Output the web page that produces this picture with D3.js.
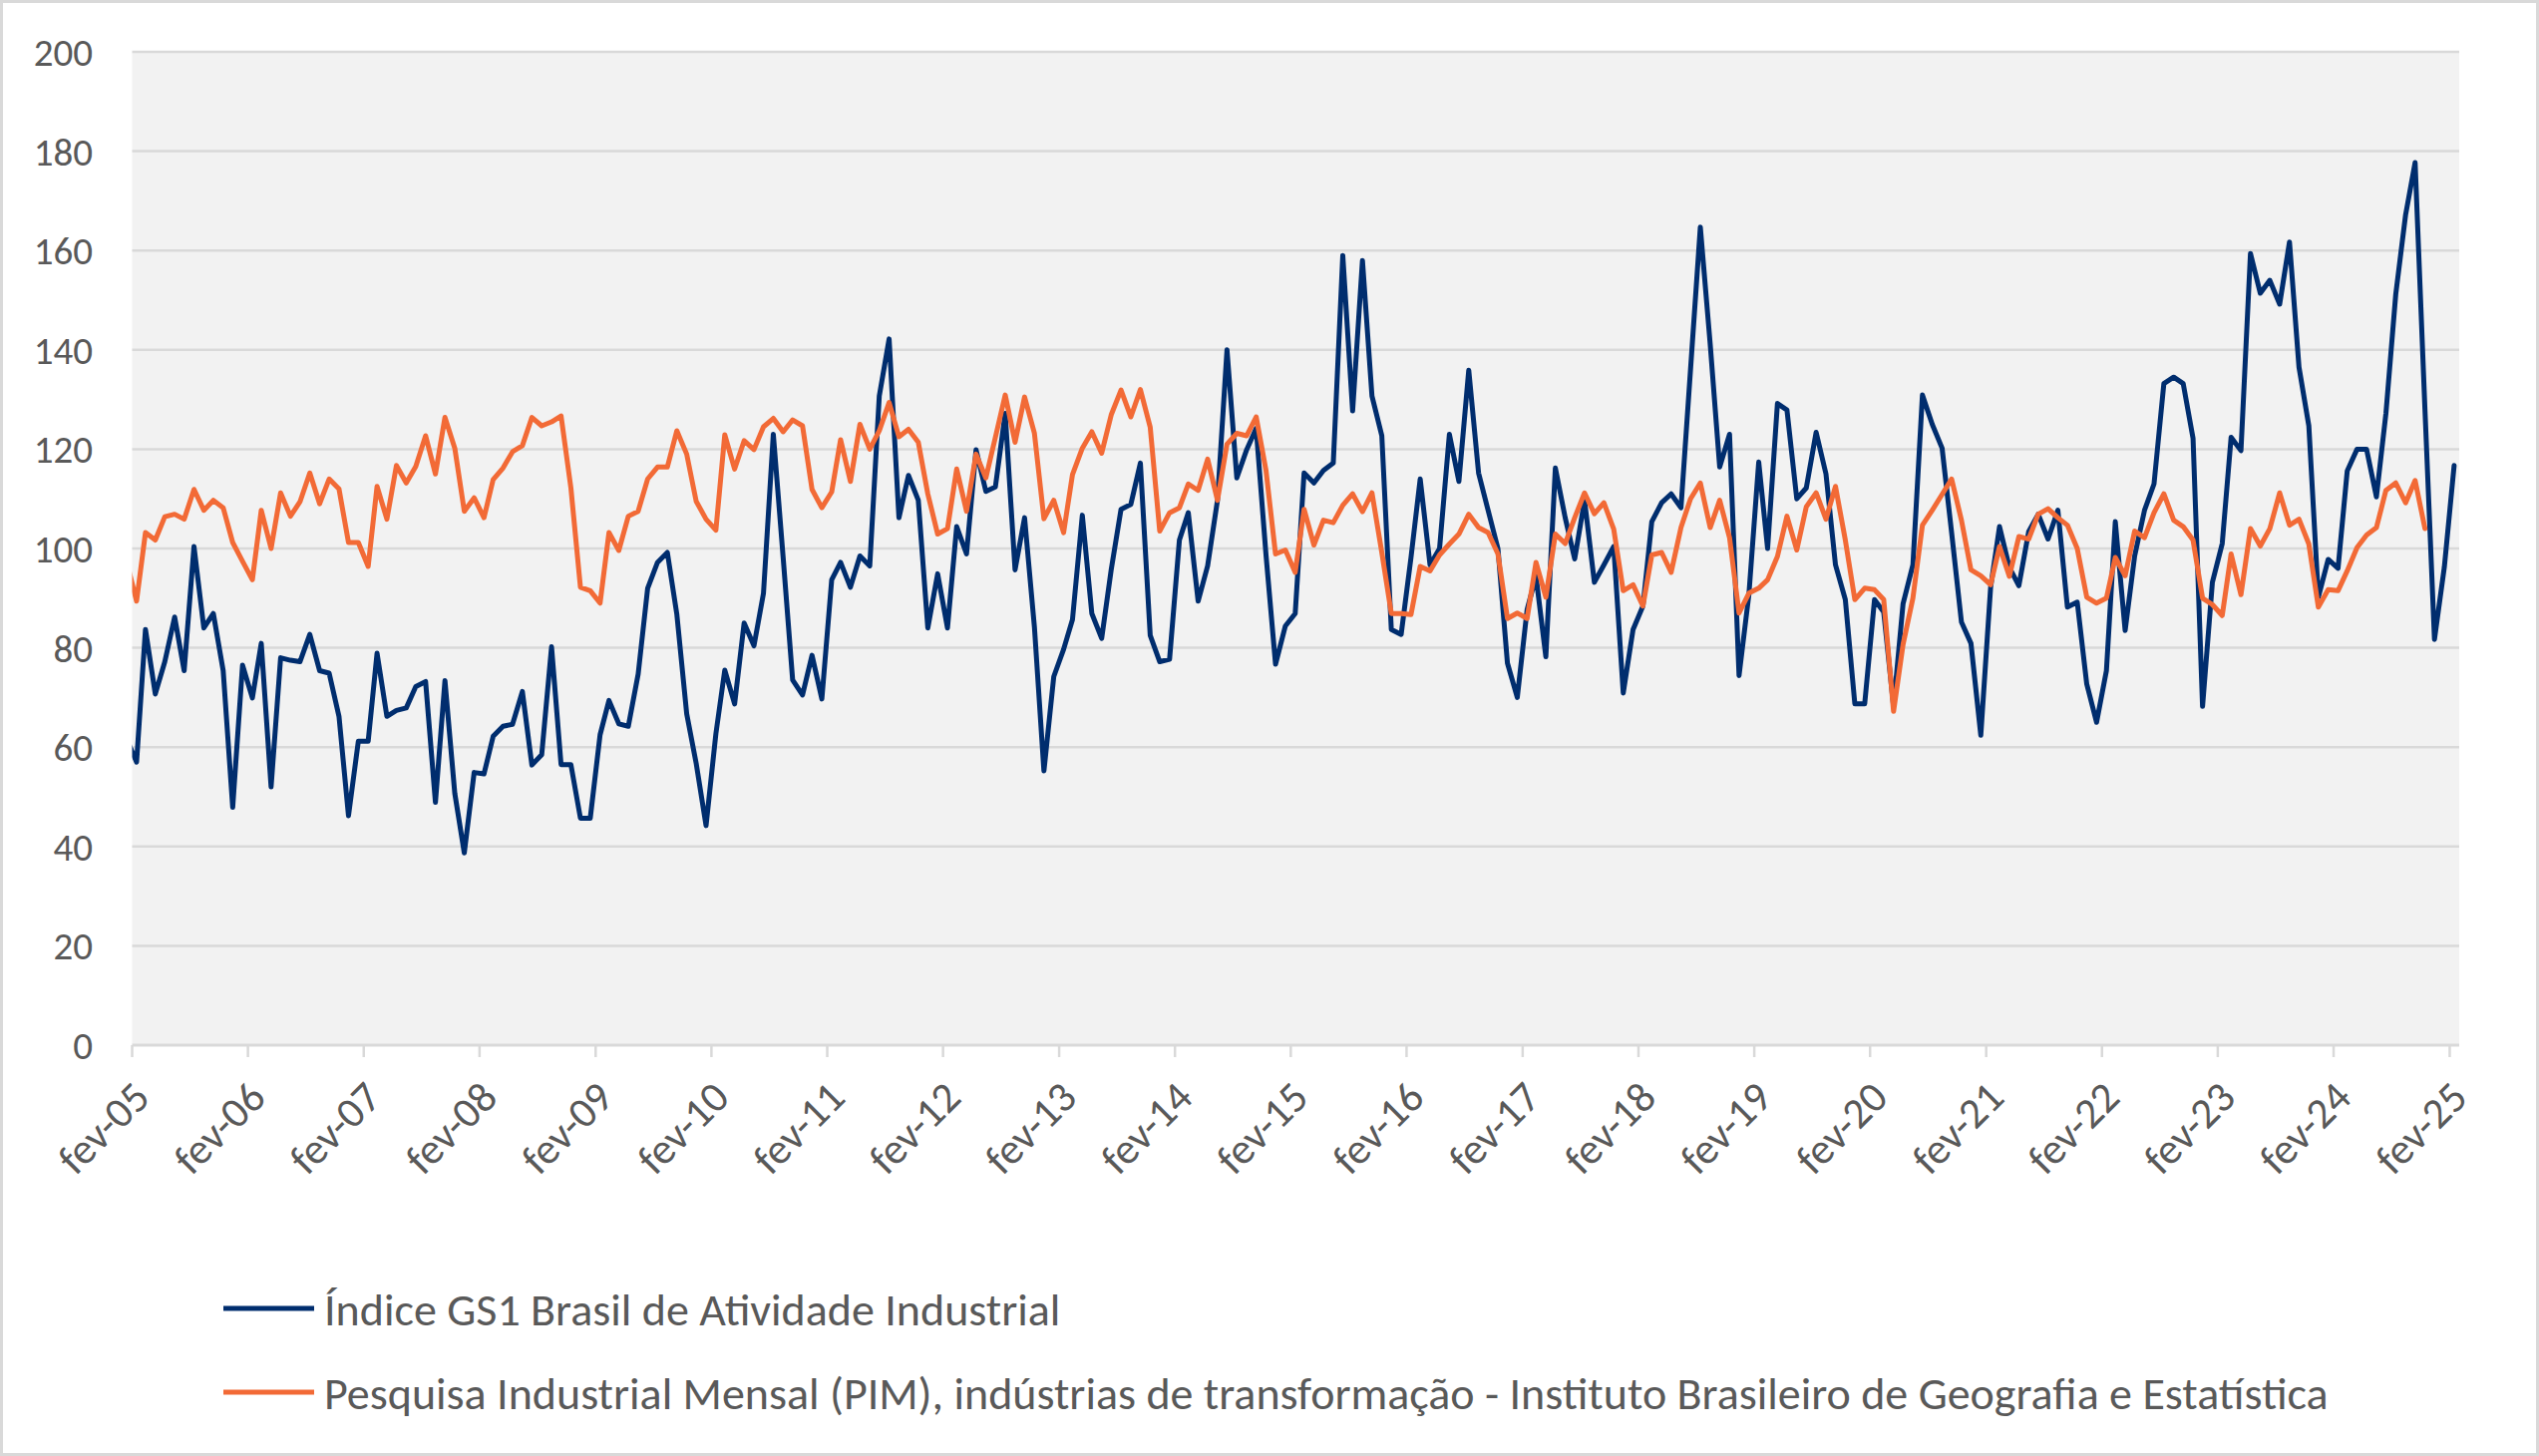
<!DOCTYPE html>
<html>
<head>
<meta charset="utf-8">
<script src="https://cdn.jsdelivr.net/npm/d3@7"></script>
<style>
  body { margin: 0; background: #fff; }
  text { font-family: Calibri, Carlito, Lato, sans-serif; fill: #595959; }
</style>
</head>
<body>
<svg id="chart"></svg>
<script>
var W = 2546, H = 1460;

// monthly values, jan-05 onwards (jan-05 sits just left of the axis and gets clipped)
var gs1Index = [
  61.6, 57.0, 83.7, 70.7, 77.2, 86.2, 75.4, 100.4, 84.0, 86.9, 75.4, 47.9,
  76.5, 69.9, 80.9, 52.0, 78.0, 77.5, 77.2, 82.7, 75.4, 74.9, 66.2, 46.2,
  61.2, 61.2, 78.9, 66.2, 67.4, 67.9, 72.2, 73.2, 48.9, 73.4, 50.7, 38.7,
  54.9, 54.6, 62.2, 64.2, 64.6, 71.2, 56.4, 58.5, 80.2, 56.5, 56.5, 45.7,
  45.7, 62.5, 69.4, 64.7, 64.2, 74.7, 92.0, 97.2, 99.2, 86.7, 66.7, 56.7,
  44.2, 62.7, 75.5, 68.7, 85.0, 80.4, 91.0, 123.0, 98.2, 73.5, 70.5, 78.5,
  69.7, 93.7, 97.2, 92.2, 98.5, 96.5, 130.7, 142.2, 106.2, 114.7, 109.7, 84.0,
  94.9, 84.0, 104.4, 98.9, 119.9, 111.5, 112.4, 127.2, 95.7, 106.2, 84.2, 55.2,
  74.2, 79.7, 85.7, 106.7, 86.9, 81.9, 95.7, 107.9, 108.9, 117.2, 82.5, 77.2,
  77.7, 101.7, 107.2, 89.4, 96.5, 109.7, 140.0, 114.2, 119.9, 124.2, 98.7, 76.7,
  84.4, 86.9, 115.2, 113.2, 115.7, 117.2, 159.0, 127.7, 158.0, 130.7, 122.7, 83.7,
  82.7, 98.2, 114.0, 96.7, 100.0, 123.0, 113.5, 135.9, 115.2, 107.7, 100.0, 76.9,
  70.0, 87.7, 94.4, 78.2, 116.2, 106.2, 97.9, 109.7, 93.2, 96.7, 100.4, 70.9,
  83.7, 88.4, 105.4, 109.2, 111.0, 108.2, 136.0, 164.7, 141.2, 116.4, 123.0, 74.4,
  90.7, 117.4, 100.0, 129.2, 127.9, 110.0, 112.2, 123.4, 115.0, 96.7, 89.7, 68.7,
  68.7, 89.7, 87.2, 68.2, 88.9, 96.7, 130.9, 125.0, 120.2, 103.2, 85.2, 80.9,
  62.4, 92.2, 104.4, 96.2, 92.5, 103.4, 106.9, 101.9, 107.7, 88.2, 89.2, 72.7,
  65.0, 75.4, 105.4, 83.5, 98.5, 107.7, 113.0, 133.2, 134.5, 133.2, 122.2, 68.2,
  93.2, 101.0, 122.4, 119.7, 159.4, 151.4, 154.0, 149.2, 161.7, 136.5, 124.7, 90.2,
  97.8, 96.0, 115.6, 120.0, 120.0, 110.4, 127.2, 151.2, 167.2, 177.7, 128.0, 81.7,
  96.2, 116.7
];

var pimIndex = [
  97.3, 89.4, 103.2, 101.7, 106.4, 106.9, 105.9, 111.9, 107.7, 109.7, 108.2, 101.2,
  97.4, 93.7, 107.7, 100.0, 111.2, 106.5, 109.4, 115.2, 109.0, 114.0, 112.0, 101.2,
  101.2, 96.4, 112.5, 105.9, 116.7, 113.2, 116.5, 122.7, 115.0, 126.4, 120.2, 107.5,
  110.2, 106.2, 113.9, 116.2, 119.5, 120.7, 126.4, 124.7, 125.5, 126.7, 112.2, 92.2,
  91.5, 89.0, 103.2, 99.6, 106.5, 107.5, 114.0, 116.4, 116.4, 123.7, 119.0, 109.5,
  105.9, 103.7, 122.9, 116.0, 121.7, 119.9, 124.5, 126.2, 123.5, 125.9, 124.7, 111.9,
  108.2, 111.4, 121.9, 113.5, 125.0, 120.0, 123.7, 129.4, 122.5, 124.0, 121.4, 111.0,
  102.9, 104.0, 116.0, 107.5, 119.0, 114.2, 122.4, 130.9, 121.4, 130.5, 123.2, 106.0,
  109.7, 103.2, 114.9, 120.2, 123.5, 119.2, 126.9, 131.9, 126.5, 132.0, 124.4, 103.5,
  107.2, 108.2, 113.0, 111.7, 118.0, 109.7, 121.0, 123.2, 122.7, 126.5, 115.7, 98.9,
  99.7, 95.2, 107.9, 100.7, 105.7, 105.2, 108.7, 111.0, 107.4, 111.2, 99.2, 86.9,
  86.9, 86.7, 96.4, 95.5, 98.7, 100.9, 102.9, 106.9, 104.2, 103.2, 98.9, 85.9,
  87.0, 85.9, 97.2, 90.2, 102.9, 101.0, 106.2, 111.2, 107.0, 109.2, 103.9, 91.5,
  92.7, 88.4, 98.7, 99.2, 95.2, 104.2, 110.0, 113.2, 104.2, 109.7, 102.2, 87.0,
  91.0, 92.0, 93.7, 98.4, 106.5, 99.7, 108.4, 111.2, 105.9, 112.5, 101.7, 89.7,
  92.0, 91.7, 89.7, 67.2, 80.7, 90.0, 104.7, 107.7, 110.9, 114.0, 105.7, 95.7,
  94.5, 92.7, 100.4, 94.4, 102.4, 101.9, 106.9, 108.0, 106.2, 104.7, 100.0, 90.2,
  89.0, 90.0, 98.2, 94.5, 103.5, 102.2, 107.2, 111.0, 105.7, 104.4, 101.7, 90.0,
  88.7, 86.5, 98.9, 90.7, 104.0, 100.5, 104.0, 111.2, 104.7, 105.9, 100.9, 88.2,
  91.7, 91.5, 95.5, 100.2, 102.7, 104.2, 111.7, 113.2, 109.2, 113.7, 104.0
];

var tickLabels = ["fev-05", "fev-06", "fev-07", "fev-08", "fev-09", "fev-10", "fev-11",
  "fev-12", "fev-13", "fev-14", "fev-15", "fev-16", "fev-17", "fev-18", "fev-19",
  "fev-20", "fev-21", "fev-22", "fev-23", "fev-24", "fev-25"];
var yTicks = [0, 20, 40, 60, 80, 100, 120, 140, 160, 180, 200];
var seriesNames = ["Índice GS1 Brasil de Atividade Industrial",
  "Pesquisa Industrial Mensal (PIM), indústrias de transformação - Instituto Brasileiro de Geografia e Estatística"];
var seriesColors = ["#002d6e", "#f26a36"];

var plot = { left: 132.5, right: 2466, top: 52, bottom: 1048 };

var svg = d3.select('#chart').attr('width', W).attr('height', H);

svg.append('rect')
  .attr('x', 1.5).attr('y', 1.5)
  .attr('width', W - 3).attr('height', H - 3)
  .style('fill', '#fff')
  .style('stroke', '#d9d9d9')
  .style('stroke-width', 3);

var x = d3.scaleTime()
  .domain([new Date(2005, 1, 1), new Date(2025, 2, 3)])
  .range([plot.left, plot.right]);

var y = d3.scaleLinear()
  .domain([0, 200])
  .range([plot.bottom, plot.top]);

function monthDate(i) { return new Date(2005, i, 15); }

svg.append('rect')
  .attr('x', plot.left).attr('y', plot.top)
  .attr('width', plot.right - plot.left).attr('height', plot.bottom - plot.top)
  .style('fill', '#f2f2f2');

// gridlines
svg.append('g').selectAll('line')
  .data(yTicks.slice(1))
  .enter().append('line')
  .attr('x1', plot.left).attr('x2', plot.right)
  .attr('y1', function(d) { return y(d); })
  .attr('y2', function(d) { return y(d); })
  .style('stroke', '#d9d9d9')
  .style('stroke-width', 2.5);

// y labels
svg.append('g').selectAll('text')
  .data(yTicks)
  .enter().append('text')
  .attr('x', 93)
  .attr('y', function(d) { return y(d); })
  .attr('dy', '0.36em')
  .attr('text-anchor', 'end')
  .attr('font-size', 39)
  .text(function(d) { return d; });

// x axis
var tickDates = tickLabels.map(function(d, i) { return new Date(2005 + i, 1, 1); });

svg.append('line')
  .attr('x1', plot.left).attr('x2', plot.right)
  .attr('y1', plot.bottom).attr('y2', plot.bottom)
  .style('stroke', '#d9d9d9')
  .style('stroke-width', 3);

svg.append('g').selectAll('line')
  .data(tickDates)
  .enter().append('line')
  .attr('x1', function(d) { return x(d); })
  .attr('x2', function(d) { return x(d); })
  .attr('y1', plot.bottom).attr('y2', plot.bottom + 12)
  .style('stroke', '#d9d9d9')
  .style('stroke-width', 2.5);

svg.append('g').selectAll('text')
  .data(tickDates)
  .enter().append('text')
  .attr('transform', function(d) { return 'translate(' + (x(d) + 9) + ',' + (plot.bottom + 44) + ') rotate(-45)'; })
  .attr('text-anchor', 'end')
  .attr('dy', '0.36em')
  .attr('font-size', 43)
  .text(function(d, i) { return tickLabels[i]; });

// lines
svg.append('clipPath').attr('id', 'plot-clip')
  .append('rect')
  .attr('x', plot.left).attr('y', 0)
  .attr('width', plot.right - plot.left).attr('height', plot.bottom + 20);

var line = d3.line()
  .x(function(d, i) { return x(monthDate(i)); })
  .y(function(d) { return y(d); });

var lines = svg.append('g').attr('clip-path', 'url(#plot-clip)');

[gs1Index, pimIndex].forEach(function(series, s) {
  lines.append('path')
    .datum(series)
    .attr('d', line)
    .style('fill', 'none')
    .style('stroke', seriesColors[s])
    .style('stroke-width', 5)
    .style('stroke-linejoin', 'round')
    .style('stroke-linecap', 'round');
});

// legend
var legend = svg.append('g').selectAll('g')
  .data(seriesNames)
  .enter().append('g')
  .attr('transform', function(d, i) { return 'translate(224,' + (1312 + i * 84) + ')'; });

legend.append('line')
  .attr('x1', 0).attr('x2', 91)
  .style('stroke', function(d, i) { return seriesColors[i]; })
  .style('stroke-width', 5);

legend.append('text')
  .attr('x', 101)
  .attr('dy', '0.36em')
  .attr('font-size', 46)
  .text(function(d) { return d; });
</script>
</body>
</html>
